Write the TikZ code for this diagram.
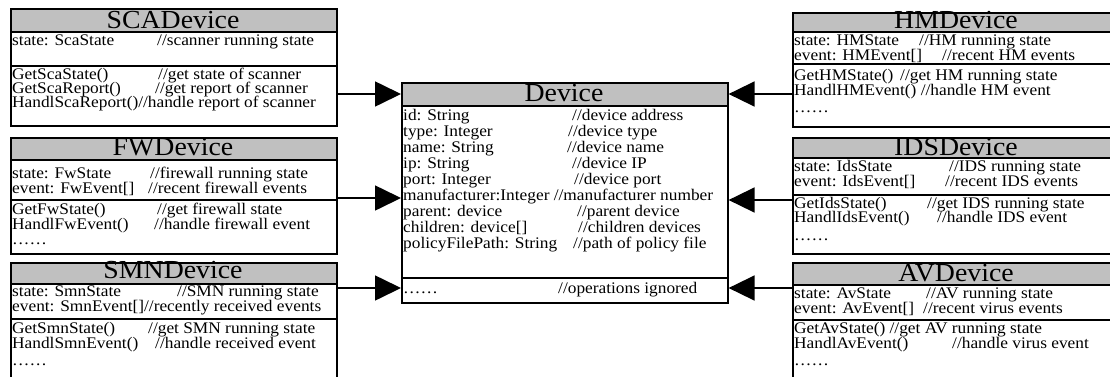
\documentclass[tikz,border=0pt]{standalone}
\usepackage{fontspec}
\setmainfont{Liberation Serif}[FakeStretch=1.07]
\usetikzlibrary{arrows.meta}
\newcounter{tncnt}
\newcommand\umlbox[8]{% name x1 y1 x2 y2 headerbottom divider title
  \fill[hdrfill] (#2,#3) rectangle (#4,#6);
  \node[boxnode, minimum width={(#4-#2)*1pt}, minimum height={(#5-#3)*1pt}] (#1) at (#2,#3) {};
  \draw[sep] (#1.west |- 0,#6) -- (#1.east |- 0,#6);
  \draw[sep] (#1.west |- 0,#7) -- (#1.east |- 0,#7);
}
\newcommand\titl[4]{\node[titletext] (#1) at (#2,#3) {#4};}
\newcommand\tl[3]{\stepcounter{tncnt}\node[bodytext] (t\arabic{tncnt}) at (#1,#2) {#3};}
\begin{document}
\begin{tikzpicture}[x=1pt,y=-1pt,
  hdrfill/.style={fill=hdrgray},
  boxnode/.style={draw, line width=1.6pt, rectangle, inner sep=0pt, anchor=north west},
  sep/.style={line width=1.6pt},
  titletext/.style={anchor=base, inner sep=0pt, font=\fontsize{26}{26}\selectfont},
  bodytext/.style={anchor=base west, inner sep=0pt, font=\fontsize{16.2}{16.2}\selectfont},
  arr/.style={line width=1.6pt, -{Triangle[length=26pt,width=25pt]}}]
\definecolor{hdrgray}{HTML}{C0C0C0}
\clip (0,0) rectangle (1110,376);
\useasboundingbox (0,0) rectangle (1110,376);
\fill[white] (0,0) rectangle (1110,376);
% boxes
\umlbox{sca}{10}{8}{336}{125}{32}{66}{SCADevice}
\umlbox{fw}{10}{137}{336}{253}{160}{200}{FWDevice}
\umlbox{smn}{10}{262}{336}{420}{284}{319}{SMNDevice}
\umlbox{hm}{792}{12}{1120}{126}{32}{64}{HMDevice}
\umlbox{ids}{792}{137}{1120}{253}{158}{195}{IDSDevice}
\umlbox{av}{792}{262}{1120}{420}{285}{320}{AVDevice}
\umlbox{dev}{401}{82}{727}{302}{106}{278}{Device}
% titles
\titl{scat}{173}{28}{SCADevice}
\titl{fwt}{173}{155.5}{FWDevice}
\titl{smnt}{173}{278}{SMNDevice}
\titl{hmt}{956}{28}{HMDevice}
\titl{idst}{956}{155}{IDSDevice}
\titl{avt}{956}{281}{AVDevice}
\titl{devt}{564}{101.5}{Device}
% SCA
\tl{12}{45}{state: ScaState}\tl{157}{45}{//scanner running state}
\tl{12}{79}{GetScaState()}\tl{158}{79}{//get state of scanner}
\tl{12}{93}{GetScaReport()}\tl{155}{93}{//get report of scanner}
\tl{12}{107.5}{HandlScaReport()//handle report of scanner}
% FW
\tl{12}{178}{state: FwState}\tl{150}{178}{//firewall running state}
\tl{12}{193}{event: FwEvent[]}\tl{148}{193}{//recent firewall events}
\tl{12}{214}{GetFwState()}\tl{157}{214}{//get firewall state}
\tl{12}{229}{HandlFwEvent()}\tl{154}{229}{//handle firewall event}
\tl{12}{244}{……}
% SMN
\tl{12}{296}{state: SmnState}\tl{177}{296}{//SMN running state}
\tl{12}{311}{event: SmnEvent[]//recently received events}
\tl{12}{333}{GetSmnState()}\tl{148}{333}{//get SMN running state}
\tl{12}{348}{HandlSmnEvent()}\tl{155}{348}{//handle received event}
\tl{12}{365}{……}
% HM
\tl{794}{45}{state: HMState}\tl{919}{45}{//HM running state}
\tl{794}{60}{event: HMEvent[]}\tl{942}{60}{//recent HM events}
\tl{794}{80}{GetHMState()}\tl{900}{80}{//get HM running state}
\tl{794}{95}{HandlHMEvent() //handle HM event}
\tl{794}{112}{……}
% IDS
\tl{794}{171}{state: IdsState}\tl{949}{171}{//IDS running state}
\tl{794}{186}{event: IdsEvent[]}\tl{945}{186}{//recent IDS events}
\tl{794}{208}{GetIdsState()}\tl{927}{208}{//get IDS running state}
\tl{794}{222}{HandlIdsEvent()}\tl{937}{222}{//handle IDS event}
\tl{794}{240}{……}
% AV
\tl{794}{298}{state: AvState}\tl{926}{298}{//AV running state}
\tl{794}{313}{event: AvEvent[]}\tl{923}{313}{//recent virus events}
\tl{794}{333}{GetAvState() //get AV running state}
\tl{794}{348}{HandlAvEvent()}\tl{952}{348}{//handle virus event}
\tl{794}{365}{……}
% Device
\tl{403}{120}{id: String}\tl{572}{120}{//device address}
\tl{403}{136}{type: Integer}\tl{568}{136}{//device type}
\tl{403}{152}{name: String}\tl{567}{152}{//device name}
\tl{403}{168}{ip: String}\tl{572}{168}{//device IP}
\tl{403}{184}{port: Integer}\tl{574}{184}{//device port}
\tl{403}{200}{manufacturer:Integer //manufacturer number}
\tl{403}{216}{parent: device}\tl{577}{216}{//parent device}
\tl{403}{232}{children: device[]}\tl{578}{232}{//children devices}
\tl{403}{248}{policyFilePath: String}\tl{573}{248}{//path of policy file}
\tl{403}{293}{……}\tl{558}{293}{//operations ignored}
% connectors
\draw[arr] (sca.east |- 0,94) -- (dev.west |- 0,94);
\draw[arr] (fw.east |- 0,198) -- (dev.west |- 0,198);
\draw[arr] (smn.east |- 0,288) -- (dev.west |- 0,288);
\draw[arr] (hm.west |- 0,94) -- (dev.east |- 0,94);
\draw[arr] (ids.west |- 0,200) -- (dev.east |- 0,200);
\draw[arr] (av.west |- 0,288) -- (dev.east |- 0,288);
\end{tikzpicture}
\end{document}
